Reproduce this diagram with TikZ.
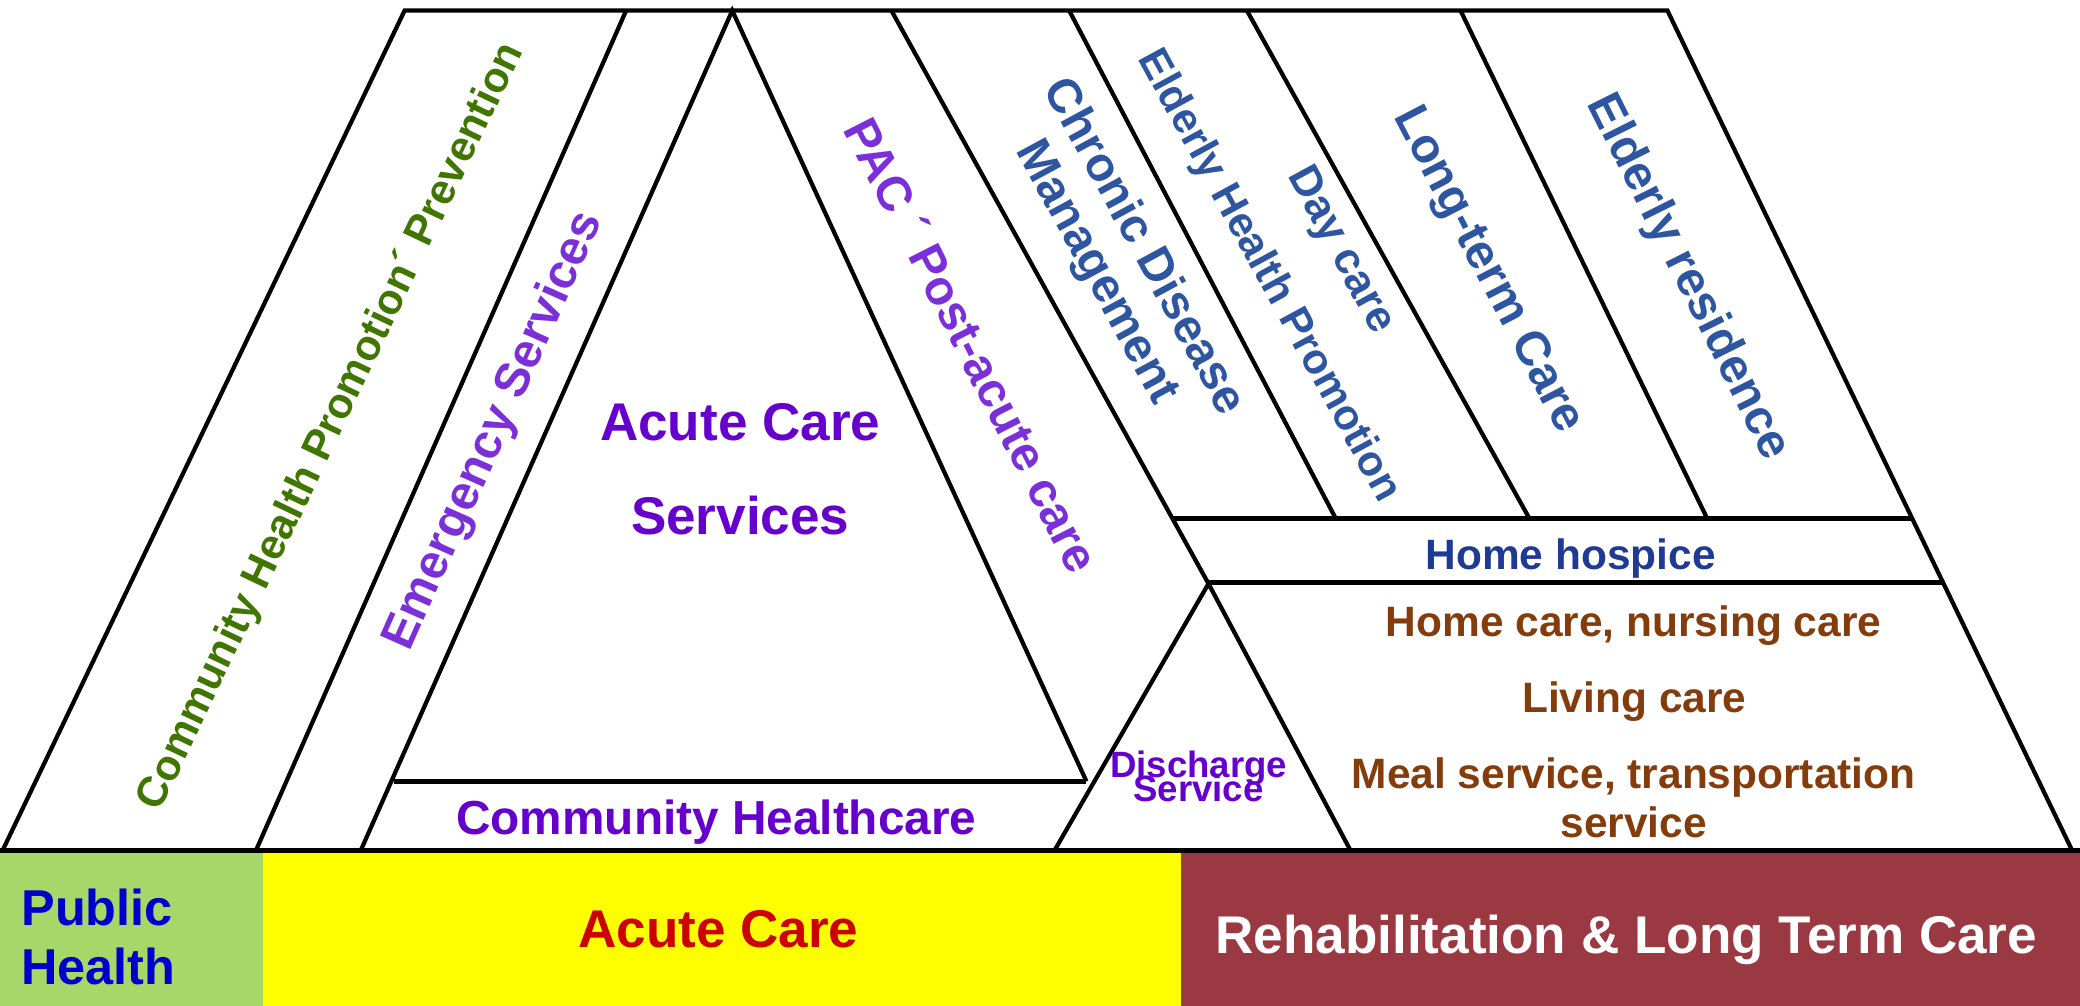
\documentclass[tikz,border=0pt]{standalone}
\usepackage{fontspec}
\setmainfont{Liberation Sans}
\usepackage{xcolor}

\definecolor{phgreen}{RGB}{166,215,104}
\definecolor{acyellow}{RGB}{255,255,0}
\definecolor{ltcred}{RGB}{155,57,66}
\definecolor{promogreen}{RGB}{64,118,0}
\definecolor{emerpurple}{RGB}{123,47,217}
\definecolor{acpurple}{RGB}{102,0,204}
\definecolor{ltcblue}{RGB}{46,86,160}
\definecolor{hospblue}{RGB}{31,58,147}
\definecolor{carebrown}{RGB}{132,60,12}
\definecolor{phblue}{RGB}{0,0,204}
\definecolor{acred}{RGB}{204,0,0}

\newcommand{\sizeat}[2]{\fontsize{#1}{#2}\selectfont}

\begin{document}
\begin{tikzpicture}[
    x = 1pt, y = 1pt,
    outline/.style = {line width=3.2pt, line join=miter},
    divider/.style = {line width=3.6pt},
    tilted/.style = {inner sep=0pt, align=center},
    flat/.style = {inner sep=0pt, anchor=base}
]
    \useasboundingbox (0,0) rectangle (1568,758);

    % sector bars
    \fill[phgreen] (0,0) rectangle (198,115);
    \fill[acyellow] (198,0) rectangle (890,115);
    \fill[ltcred] (890,0) rectangle (1568,115);

    \coordinate (ph0) at (2,117);
    \coordinate (ph1) at (305,750);
    \coordinate (em0) at (193,117);
    \coordinate (em1) at (472,750);
    \coordinate (acL) at (272,117);
    \coordinate (acTop) at (552,750);
    \coordinate (acR) at (819,169);
    \coordinate (chL) at (297,169);
    \coordinate (pac1) at (672,750);
    \coordinate (dsTop) at (911,318);
    \coordinate (dsL) at (795,117);
    \coordinate (dsR) at (1018,117);
    \coordinate (cd1) at (806,750);
    \coordinate (cd0) at (1007,367);
    \coordinate (eh1) at (940,750);
    \coordinate (eh0) at (1153,367);
    \coordinate (lt1) at (1101,750);
    \coordinate (lt0) at (1287,367);
    \coordinate (er1) at (1257,750);
    \coordinate (er0) at (1562,117);
    \coordinate (hpL) at (883,367);
    \coordinate (hpR) at (1441,367);
    \coordinate (hcL) at (911,319);
    \coordinate (hcR) at (1465,319);
    \coordinate (baseL) at (0,117);
    \coordinate (baseR) at (1568,117);

    \draw[outline] (ph0) -- (ph1) -- (er1) -- (er0);
    \draw[outline] (em0) -- (em1);
    \draw[outline] (acL) -- (acTop) -- (acR);
    \draw[outline] (pac1) -- (dsTop);
    \draw[outline] (dsL) -- (dsTop) -- (dsR);
    \draw[outline] (cd1) -- (cd0);
    \draw[outline] (eh1) -- (eh0);
    \draw[outline] (lt1) -- (lt0);
    \draw[divider] (chL) -- (acR);
    \draw[divider] (hpL) -- (hpR);
    \draw[divider] (hcL) -- (hcR);
    \draw[line width=4.2pt] (baseL) -- (baseR);

    % slanted bands
    \node[tilted, text=promogreen, font=\bfseries\sizeat{32}{36}, rotate=64.5] (promo) at (250,436) {Community Health Promotion´ Prevention};
    \node[tilted, text=emerpurple, font=\bfseries\sizeat{36.5}{40}, rotate=66] (emer) at (373,433) {Emergency Services};
    \node[tilted, text=emerpurple, font=\bfseries\sizeat{36.5}{40}, rotate=-63] (pac) at (733,498) {PAC ´ Post-acute care};
    \node[tilted, text=ltcblue, font=\bfseries\sizeat{36}{40}, rotate=-61.5] (chronic) at (844,562) {Chronic Disease\\Management};
    \node[tilted, text=ltcblue, font=\bfseries\sizeat{32}{36}, rotate=-61.5] (elderhp) at (956,550) {Elderly Health Promotion};
    \node[tilted, text=ltcblue, font=\bfseries\sizeat{33}{36}, rotate=-61.5] (daycare) at (1010,569) {Day care};
    \node[tilted, text=ltcblue, font=\bfseries\sizeat{36.5}{40}, rotate=-62.5] (longterm) at (1121,554) {Long-term Care};
    \node[tilted, text=ltcblue, font=\bfseries\sizeat{36.5}{40}, rotate=-63.5] (residence) at (1272,549) {Elderly residence};

    % acute care triangle
    \node[flat, text=acpurple, font=\bfseries\sizeat{40}{44}] (acute1) at (558,426) {Acute Care};
    \node[flat, text=acpurple, font=\bfseries\sizeat{40}{44}] (acute2) at (558,355) {Services};
    \node[flat, text=acpurple, font=\bfseries\sizeat{36}{40}] (commhc) at (540,129) {Community Healthcare};
    \node[flat, text=acpurple, font=\bfseries\sizeat{27.6}{30}] (disch1) at (903.6,172) {Discharge};
    \node[flat, text=acpurple, font=\bfseries\sizeat{27.6}{30}] (disch2) at (903.4,154) {Service};

    % long term care block
    \node[flat, text=hospblue, font=\bfseries\sizeat{32}{36}] (hospice) at (1184,329) {Home hospice};
    \node[flat, text=carebrown, font=\bfseries\sizeat{32}{36}] (homecare) at (1231.5,278.5) {Home care, nursing care};
    \node[flat, text=carebrown, font=\bfseries\sizeat{32}{36}] (living) at (1232,220.7) {Living care};
    \node[flat, text=carebrown, font=\bfseries\sizeat{32}{36}] (meal1) at (1231.5,163.7) {Meal service, transportation};
    \node[flat, text=carebrown, font=\bfseries\sizeat{32}{36}] (meal2) at (1231.5,126.5) {service};

    % sector labels
    \node[flat, anchor=base west, text=phblue, font=\bfseries\sizeat{38}{42}] (public1) at (16,60) {Public};
    \node[flat, anchor=base west, text=phblue, font=\bfseries\sizeat{38}{42}] (public2) at (16,16) {Health};
    \node[flat, text=acred, font=\bfseries\sizeat{40}{44}] (acutebar) at (541.5,44) {Acute Care};
    \node[flat, text=white, font=\bfseries\sizeat{40}{44}] (rehab) at (1226,39) {Rehabilitation \& Long Term Care};
\end{tikzpicture}
\end{document}
